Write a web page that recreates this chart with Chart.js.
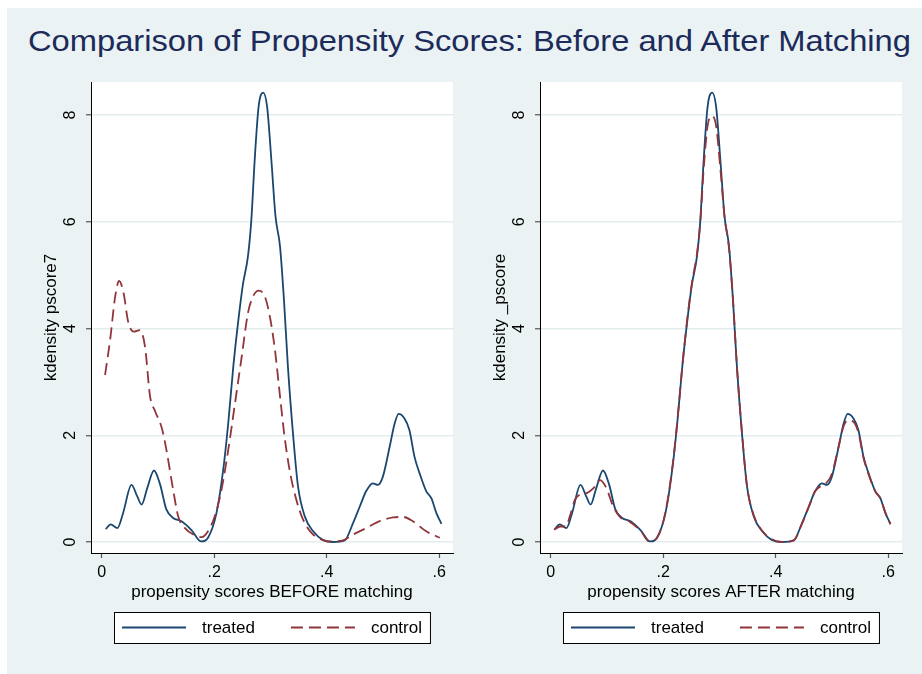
<!DOCTYPE html>
<html>
<head>
<meta charset="utf-8">
<script src="https://cdn.jsdelivr.net/npm/chart.js@4.4.1/dist/chart.umd.min.js"></script>
<style>
    body { margin: 0; background: #fff; }
    #frame { position: absolute; left: 7px; top: 8px; width: 915px; height: 666px; background: #eaf2f3; }
    #title {
        position: absolute; left: 28px; top: 26px;
        font-family: "Liberation Sans", Arial, sans-serif; font-size: 29.5px; line-height: 1;
        color: #1c2b5a; white-space: nowrap;
        transform: scaleX(1.108); transform-origin: 0 0;
    }
    .panel { position: absolute; top: 8px; }
</style>
</head>
<body>
<div id="frame"></div>
<div id="title">Comparison of Propensity Scores: Before and After Matching</div>
<canvas id="before-chart" class="panel" style="left:7px" width="454" height="666"></canvas>
<canvas id="after-chart" class="panel" style="left:456px" width="454" height="666"></canvas>

<script>
// kernel density of the propensity score
const treatedX = [0.007, 0.016, 0.028, 0.038, 0.053, 0.063, 0.071, 0.081, 0.093, 0.104,
    0.115, 0.127, 0.142, 0.160, 0.177, 0.189, 0.204, 0.216, 0.225, 0.234,
    0.243, 0.251, 0.260, 0.266, 0.272, 0.279, 0.287, 0.294, 0.302, 0.309,
    0.317, 0.324, 0.331, 0.340, 0.349, 0.361, 0.376, 0.393, 0.411, 0.432,
    0.447, 0.459, 0.470, 0.482, 0.491, 0.500, 0.512, 0.521, 0.528, 0.538,
    0.547, 0.556, 0.565, 0.577, 0.586, 0.595, 0.604];
const treatedY = [0.24, 0.33, 0.26, 0.54, 1.07, 0.86, 0.70, 1.01, 1.34, 1.07,
    0.61, 0.45, 0.39, 0.22, 0.01, 0.08, 0.54, 1.35, 2.23, 3.29,
    4.16, 4.82, 5.35, 6.03, 7.16, 8.16, 8.42, 8.16, 7.10, 6.10,
    5.54, 4.54, 3.29, 2.04, 1.04, 0.48, 0.20, 0.04, 0.00, 0.03,
    0.36, 0.67, 0.95, 1.10, 1.07, 1.23, 1.79, 2.23, 2.40, 2.32,
    2.10, 1.60, 1.29, 0.95, 0.82, 0.54, 0.34];

const controlBeforeX = [0.006, 0.015, 0.024, 0.031, 0.039, 0.047, 0.057, 0.068, 0.077, 0.086,
    0.095, 0.107, 0.115, 0.127, 0.136, 0.148, 0.163, 0.178, 0.189, 0.201,
    0.213, 0.225, 0.237, 0.249, 0.260, 0.269, 0.279, 0.290, 0.299, 0.308,
    0.317, 0.325, 0.334, 0.346, 0.358, 0.373, 0.388, 0.405, 0.429, 0.447,
    0.470, 0.494, 0.518, 0.536, 0.553, 0.577, 0.601];
const controlBeforeY = [3.13, 3.79, 4.60, 4.89, 4.66, 4.13, 3.94, 3.97, 3.66, 2.73,
    2.45, 2.13, 1.73, 0.98, 0.48, 0.26, 0.14, 0.09, 0.20, 0.48,
    0.98, 1.73, 2.60, 3.48, 4.29, 4.60, 4.71, 4.60, 4.22, 3.60,
    2.73, 1.98, 1.35, 0.79, 0.42, 0.17, 0.06, 0.01, 0.03, 0.14,
    0.26, 0.39, 0.46, 0.47, 0.39, 0.20, 0.08];

const controlAfterX = [0.006, 0.017, 0.027, 0.034, 0.043, 0.052, 0.065, 0.076, 0.088, 0.099,
    0.111, 0.123, 0.139, 0.160, 0.175, 0.189, 0.204, 0.216, 0.225, 0.234,
    0.243, 0.251, 0.260, 0.266, 0.272, 0.279, 0.287, 0.294, 0.302, 0.309,
    0.317, 0.324, 0.331, 0.340, 0.349, 0.361, 0.376, 0.393, 0.411, 0.432,
    0.447, 0.459, 0.470, 0.482, 0.491, 0.500, 0.512, 0.521, 0.528, 0.538,
    0.547, 0.556, 0.565, 0.577, 0.586, 0.595, 0.604];
const controlAfterY = [0.23, 0.29, 0.29, 0.48, 0.79, 0.89, 0.92, 1.01, 1.16, 1.01,
    0.67, 0.47, 0.39, 0.21, 0.01, 0.08, 0.56, 1.38, 2.25, 3.30,
    4.20, 4.85, 5.40, 6.00, 7.00, 7.80, 7.98, 7.80, 6.95, 6.10,
    5.50, 4.55, 3.30, 2.05, 1.05, 0.50, 0.21, 0.05, 0.00, 0.03,
    0.35, 0.66, 0.95, 1.06, 1.12, 1.28, 1.80, 2.18, 2.28, 2.25,
    2.05, 1.58, 1.27, 0.95, 0.82, 0.55, 0.33];

const xTickValues = [0, 0.2, 0.4, 0.6];
const xTickLabels = ['0', '.2', '.4', '.6'];
const yTickValues = [0, 2, 4, 6, 8];
const yTickLabels = ['0', '2', '4', '6', '8'];

const FONT = '"Liberation Sans", Arial, sans-serif';
const TREATED_COLOR = '#1a476f';
const CONTROL_COLOR = '#90353b';

function toPoints(xs, ys) {
    return xs.map((x, i) => ({ x: x, y: ys[i] }));
}

// white plot region, like Stata's s2color scheme
const plotRegion = {
    id: 'plotRegion',
    beforeDraw(chart) {
        const a = chart.chartArea;
        chart.ctx.save();
        chart.ctx.fillStyle = '#fff';
        chart.ctx.fillRect(a.left, a.top, a.right - a.left, a.bottom - a.top);
        chart.ctx.restore();
    }
};

// Stata style legend: boxed, centred under the plot region
const stataLegend = {
    id: 'stataLegend',
    afterDraw(chart) {
        const ctx = chart.ctx;
        const area = chart.chartArea;
        const sets = chart.data.datasets;
        ctx.save();
        ctx.font = '17px ' + FONT;
        const widths = sets.map(d => ctx.measureText(d.label).width);
        const pad = 8, sample = 64, gap = 16, space = 36, h = 31;
        const w = pad * 2 + sets.length * (sample + gap) + widths.reduce((a, b) => a + b, 0) + space * (sets.length - 1);
        const left = Math.round((area.left + area.right) / 2 - w / 2);
        const top = 604;
        ctx.fillStyle = '#fff';
        ctx.fillRect(left, top, w, h);
        ctx.strokeStyle = '#000';
        ctx.lineWidth = 1;
        ctx.strokeRect(left + 0.5, top + 0.5, w, h);
        let x = left + pad;
        const y = top + h / 2;
        sets.forEach((d, i) => {
            ctx.beginPath();
            ctx.strokeStyle = d.borderColor;
            ctx.lineWidth = d.borderWidth;
            ctx.setLineDash(d.borderDash || []);
            ctx.moveTo(x, y);
            ctx.lineTo(x + sample, y);
            ctx.stroke();
            ctx.setLineDash([]);
            x += sample + gap;
            ctx.fillStyle = '#000';
            ctx.textBaseline = 'middle';
            ctx.fillText(d.label, x, y + 1);
            x += widths[i] + space;
        });
        ctx.restore();
    }
};

function makePanel(canvasId, controlX, controlY, xTitle, yTitle) {
    const ctx = document.getElementById(canvasId).getContext('2d');
    return new Chart(ctx, {
        type: 'line',
        data: {
            datasets: [{
                label: 'treated',
                data: toPoints(treatedX, treatedY),
                borderColor: TREATED_COLOR,
                borderWidth: 1.8,
                pointRadius: 0,
                cubicInterpolationMode: 'monotone',
                order: 1
            }, {
                label: 'control',
                data: toPoints(controlX, controlY),
                borderColor: CONTROL_COLOR,
                borderWidth: 1.8,
                borderDash: [12, 6],
                pointRadius: 0,
                cubicInterpolationMode: 'monotone',
                order: 0
            }]
        },
        options: {
            responsive: false,
            animation: false,
            events: [],
            layout: { padding: { top: 74, right: 8, bottom: 71, left: 0 } },
            plugins: { legend: { display: false }, tooltip: { enabled: false } },
            scales: {
                x: {
                    type: 'linear',
                    min: -0.019,
                    max: 0.6245,
                    afterBuildTicks: s => { s.ticks = xTickValues.map(v => ({ value: v })); },
                    afterFit: s => { s.height = 50; },
                    ticks: {
                        callback: (v, i) => xTickLabels[i],
                        font: { family: FONT, size: 16 },
                        color: '#000',
                        padding: 5,
                        maxRotation: 0
                    },
                    grid: { drawOnChartArea: false, tickLength: 5, tickColor: '#555', tickWidth: 1.2 },
                    border: { color: '#000', width: 1 },
                    title: {
                        display: true,
                        text: xTitle,
                        font: { family: FONT, size: 17 },
                        color: '#000',
                        padding: { top: 0, bottom: 0 }
                    }
                },
                y: {
                    type: 'linear',
                    min: -0.206,
                    max: 8.618,
                    afterBuildTicks: s => { s.ticks = yTickValues.map(v => ({ value: v })); },
                    afterFit: s => { s.width = 84; },
                    ticks: {
                        callback: (v, i) => yTickLabels[i],
                        font: { family: FONT, size: 16 },
                        color: '#000',
                        minRotation: 90,
                        maxRotation: 90,
                        crossAlign: 'center',
                        padding: 11
                    },
                    grid: { color: '#e3edee', lineWidth: 1.5, tickLength: 5, tickColor: '#555', tickWidth: 1.2 },
                    border: { color: '#000', width: 1 },
                    title: {
                        display: true,
                        text: yTitle,
                        font: { family: FONT, size: 17 },
                        color: '#000',
                        padding: { top: 34, bottom: 0 }
                    }
                }
            }
        },
        plugins: [plotRegion, stataLegend]
    });
}

makePanel('before-chart', controlBeforeX, controlBeforeY, 'propensity scores BEFORE matching', 'kdensity pscore7');
makePanel('after-chart', controlAfterX, controlAfterY, 'propensity scores AFTER matching', 'kdensity _pscore');
</script>
</body>
</html>
